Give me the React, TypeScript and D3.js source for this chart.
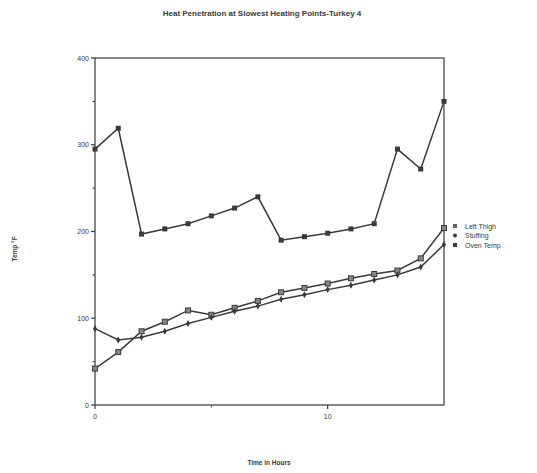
import { useEffect, useRef } from "react";
import * as d3 from "d3";

const hours = [0, 1, 2, 3, 4, 5, 6, 7, 8, 9, 10, 11, 12, 13, 14, 15];
const leftThigh = [42, 61, 85, 96, 109, 104, 112, 120, 130, 135, 140, 146, 151, 155, 169, 204];
const stuffing = [88, 75, 78, 85, 94, 101, 108, 114, 122, 127, 133, 138, 144, 150, 159, 185];
const ovenTemp = [295, 319, 197, 203, 209, 218, 227, 240, 190, 194, 198, 203, 209, 295, 272, 350];
const seriesNames = ["Left Thigh", "Stuffing", "Oven Temp"];
const yTicks = [0, 100, 200, 300, 400];
const yMinorTicks = [50, 150, 250, 350];
const xTicks = [0, 10];
const xMinorTicks = [5];

const INK = "#3a3a3a";
const FONT = "'Liberation Sans', Arial, sans-serif";

export default function App() {
  const svgRef = useRef<SVGSVGElement>(null);

  useEffect(() => {
    if (!svgRef.current) return;
    const svg = d3.select(svgRef.current);
    svg.selectAll("*").remove();

    const left = 95, right = 444, top = 58, bottom = 405;
    const x = d3.scaleLinear().domain([0, 15]).range([left, right]);
    const y = d3.scaleLinear().domain([0, 400]).range([bottom, top]);

    // title
    svg.append("text")
      .attr("x", 262).attr("y", 16)
      .attr("text-anchor", "middle")
      .attr("font-family", FONT).attr("font-weight", "bold").attr("font-size", 8)
      .attr("fill", INK)
      .text("Heat Penetration at Slowest Heating Points-Turkey 4");

    // frame
    svg.append("rect")
      .attr("x", left).attr("y", top)
      .attr("width", right - left).attr("height", bottom - top)
      .attr("fill", "none").attr("stroke", INK).attr("stroke-width", 1.2);

    // y ticks
    const g = svg.append("g");
    yTicks.forEach((t) => {
      g.append("line").attr("x1", left - 4).attr("x2", left).attr("y1", y(t)).attr("y2", y(t))
        .attr("stroke", INK).attr("stroke-width", 1.2);
      g.append("text").attr("x", left - 6).attr("y", y(t) + 2.5)
        .attr("text-anchor", "end").attr("font-family", FONT).attr("font-size", 7)
        .attr("fill", INK).text(t);
    });
    yMinorTicks.forEach((t) => {
      g.append("line").attr("x1", left - 2.5).attr("x2", left).attr("y1", y(t)).attr("y2", y(t))
        .attr("stroke", INK).attr("stroke-width", 1);
    });
    xTicks.forEach((t) => {
      g.append("line").attr("x1", x(t)).attr("x2", x(t)).attr("y1", bottom).attr("y2", bottom + 4)
        .attr("stroke", INK).attr("stroke-width", 1.2);
      g.append("text").attr("x", x(t)).attr("y", bottom + 14)
        .attr("text-anchor", "middle").attr("font-family", FONT).attr("font-size", 7)
        .attr("fill", INK).text(t);
    });
    xMinorTicks.forEach((t) => {
      g.append("line").attr("x1", x(t)).attr("x2", x(t)).attr("y1", bottom).attr("y2", bottom + 2.5)
        .attr("stroke", INK).attr("stroke-width", 1);
    });

    // axis titles
    svg.append("text")
      .attr("x", 269).attr("y", 465)
      .attr("text-anchor", "middle")
      .attr("font-family", FONT).attr("font-weight", "bold").attr("font-size", 6.5)
      .attr("fill", INK).text("Time in Hours");
    svg.append("text")
      .attr("transform", `translate(17,249) rotate(-90)`)
      .attr("text-anchor", "middle")
      .attr("font-family", FONT).attr("font-weight", "bold").attr("font-size", 6.5)
      .attr("fill", INK).text("Temp °F");

    const line = d3.line<number>().x((_, i) => x(hours[i])).y((d) => y(d));
    const all = [leftThigh, stuffing, ovenTemp];
    all.forEach((s) => {
      svg.append("path").attr("d", line(s)).attr("fill", "none")
        .attr("stroke", INK).attr("stroke-width", 1.5);
    });

    // markers
    leftThigh.forEach((v, i) => {
      svg.append("rect").attr("x", x(hours[i]) - 2.5).attr("y", y(v) - 2.5)
        .attr("width", 5).attr("height", 5)
        .attr("fill", "#888").attr("stroke", INK).attr("stroke-width", 1);
    });
    stuffing.forEach((v, i) => {
      svg.append("path").attr("d", d3.symbol(d3.symbolDiamond, 14)())
        .attr("transform", `translate(${x(hours[i])},${y(v)})`).attr("fill", INK);
    });
    ovenTemp.forEach((v, i) => {
      svg.append("rect").attr("x", x(hours[i]) - 2.5).attr("y", y(v) - 2.5)
        .attr("width", 5).attr("height", 5).attr("fill", INK);
    });

    // legend
    const lg = svg.append("g").attr("transform", "translate(455,226)");
    seriesNames.forEach((name, i) => {
      const ly = i * 9.5;
      if (i === 1) {
        lg.append("circle").attr("cx", 0).attr("cy", ly).attr("r", 2).attr("fill", INK);
      } else {
        lg.append("rect").attr("x", -2).attr("y", ly - 2).attr("width", 4).attr("height", 4)
          .attr("fill", i === 0 ? "#666" : INK);
      }
      lg.append("text").attr("x", 10).attr("y", ly + 2.5)
        .attr("font-family", FONT).attr("font-size", 7).attr("fill", INK).text(name);
    });
  }, []);

  return (
    <svg ref={svgRef} width={537} height={473}
      style={{ position: "absolute", left: 0, top: 0, background: "#fff" }} />
  );
}
